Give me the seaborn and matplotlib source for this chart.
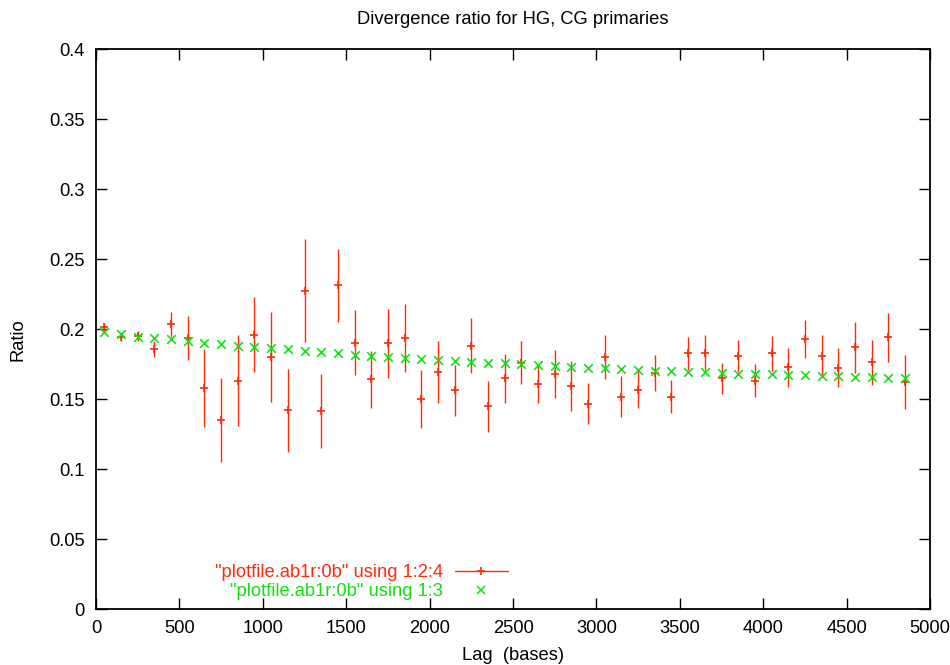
import matplotlib
matplotlib.use("Agg")
import matplotlib.pyplot as plt
import seaborn as sns
import pandas as pd
from matplotlib.lines import Line2D

# ---- data ----
lag = [50, 150, 250, 350, 450, 550, 650, 750, 850, 950,
       1050, 1150, 1250, 1350, 1450, 1550, 1650, 1750, 1850, 1950,
       2050, 2150, 2250, 2350, 2450, 2550, 2650, 2750, 2850, 2950,
       3050, 3150, 3250, 3350, 3450, 3550, 3650, 3750, 3850, 3950,
       4050, 4150, 4250, 4350, 4450, 4550, 4650, 4750, 4850]

ratio_red = [0.2017, 0.1945, 0.1950, 0.1857, 0.2033, 0.1936, 0.1576, 0.1348, 0.1631, 0.1960,
             0.1800, 0.1419, 0.2274, 0.1417, 0.2312, 0.1902, 0.1640, 0.1898, 0.1936, 0.1500,
             0.1695, 0.1562, 0.1881, 0.1448, 0.1648, 0.1760, 0.1605, 0.1679, 0.1593, 0.1467,
             0.1798, 0.1517, 0.1567, 0.1683, 0.1517, 0.1826, 0.1831, 0.1648, 0.1807, 0.1631,
             0.1826, 0.1726, 0.1929, 0.1810, 0.1724, 0.1869, 0.1762, 0.1940, 0.1621]

err_red = [0.0025, 0.0030, 0.0039, 0.0055, 0.0087, 0.0155, 0.0278, 0.0300, 0.0325, 0.0269,
           0.0322, 0.0294, 0.0370, 0.0264, 0.0260, 0.0233, 0.0203, 0.0247, 0.0243, 0.0209,
           0.0222, 0.0182, 0.0198, 0.0181, 0.0173, 0.0153, 0.0136, 0.0173, 0.0177, 0.0149,
           0.0158, 0.0149, 0.0134, 0.0128, 0.0119, 0.0119, 0.0127, 0.0110, 0.0113, 0.0120,
           0.0124, 0.0137, 0.0137, 0.0147, 0.0141, 0.0181, 0.0161, 0.0177, 0.0193]

ratio_green = [0.1976, 0.1962, 0.1945, 0.1938, 0.1929, 0.1914, 0.1902, 0.1893, 0.1881, 0.1871,
               0.1862, 0.1855, 0.1843, 0.1833, 0.1826, 0.1817, 0.1810, 0.1802, 0.1795, 0.1788,
               0.1781, 0.1771, 0.1767, 0.1760, 0.1755, 0.1750, 0.1740, 0.1736, 0.1731, 0.1724,
               0.1719, 0.1714, 0.1710, 0.1702, 0.1698, 0.1695, 0.1690, 0.1683, 0.1681, 0.1679,
               0.1676, 0.1671, 0.1669, 0.1667, 0.1662, 0.1660, 0.1655, 0.1650, 0.1648]

xticks = [0, 500, 1000, 1500, 2000, 2500, 3000, 3500, 4000, 4500, 5000]
yticks = [0, 0.05, 0.1, 0.15, 0.2, 0.25, 0.3, 0.35, 0.4]
ytick_labels = ["0", "0.05", "0.1", "0.15", "0.2", "0.25", "0.3", "0.35", "0.4"]

title = "Divergence ratio for HG, CG primaries"
xlabel = "Lag  (bases)"
ylabel = "Ratio"
label_red = '"plotfile.ab1r:0b" using 1:2:4'
label_green = '"plotfile.ab1r:0b" using 1:3'

# ---- style ----
sns.set_theme(style="white")
plt.rcParams["font.family"] = ["Liberation Sans", "DejaVu Sans"]
FS = 13.2
RED = "#ff2a0a"
GREEN = "#14e014"

df = pd.DataFrame({"lag": lag, "red": ratio_red, "err": err_red, "green": ratio_green})

fig = plt.figure(figsize=(9.5, 6.65), dpi=100)
W, H = 950, 665
ax = fig.add_axes([96 / W, 1 - 609 / H, 834 / W, 560 / H])

ax.errorbar(df["lag"], df["red"], yerr=df["err"], fmt="none", ecolor=RED,
            elinewidth=1.0, capsize=0, zorder=2)
sns.scatterplot(data=df, x="lag", y="red", marker="+", s=40, color=RED,
                linewidth=1.2, ax=ax, zorder=3, legend=False)
sns.scatterplot(data=df, x="lag", y="green", marker="x", s=38, color=GREEN,
                linewidth=1.2, ax=ax, zorder=4, legend=False)

ax.set_xlim(0, 5000)
ax.set_ylim(0, 0.4)
ax.set_xticks(xticks)
ax.set_xticklabels([str(t) for t in xticks])
ax.set_yticks(yticks)
ax.set_yticklabels(ytick_labels)
ax.set_xlabel("")
ax.set_ylabel("")

ax.tick_params(axis="both", which="both", direction="in", length=8, width=1.0,
               color="black", labelsize=FS, labelcolor="black",
               top=True, right=True, bottom=True, left=True, pad=8.0)
for sp in ax.spines.values():
    sp.set_visible(True)
    sp.set_color("black")
    sp.set_linewidth(1.3)

fig.text(513 / W, 1 - 20 / H, title, ha="center", va="center", fontsize=FS, color="black")
fig.text(513 / W, 1 - 655 / H, xlabel, ha="center", va="center", fontsize=FS, color="black")
fig.text(18 / W, 1 - 340 / H, ylabel, ha="center", va="center", rotation=90,
         fontsize=FS, color="black")

h1 = Line2D([], [], color=RED, lw=1.0, marker="+", ms=6, mew=1.2)
h2 = Line2D([], [], color=GREEN, lw=0, ls="none", marker="x", ms=6, mew=1.1)
leg = ax.legend([h1, h2], [label_red, label_green], loc="upper right",
                bbox_to_anchor=((508 - 96) / 834, (609 - 564) / 560),
                frameon=False, markerfirst=False, fontsize=FS, handlelength=2.9,
                handletextpad=0.65, labelspacing=0.12, borderpad=0, borderaxespad=0)
for txt, c in zip(leg.get_texts(), [RED, GREEN]):
    txt.set_color(c)

fig.savefig("out.png", dpi=100)
